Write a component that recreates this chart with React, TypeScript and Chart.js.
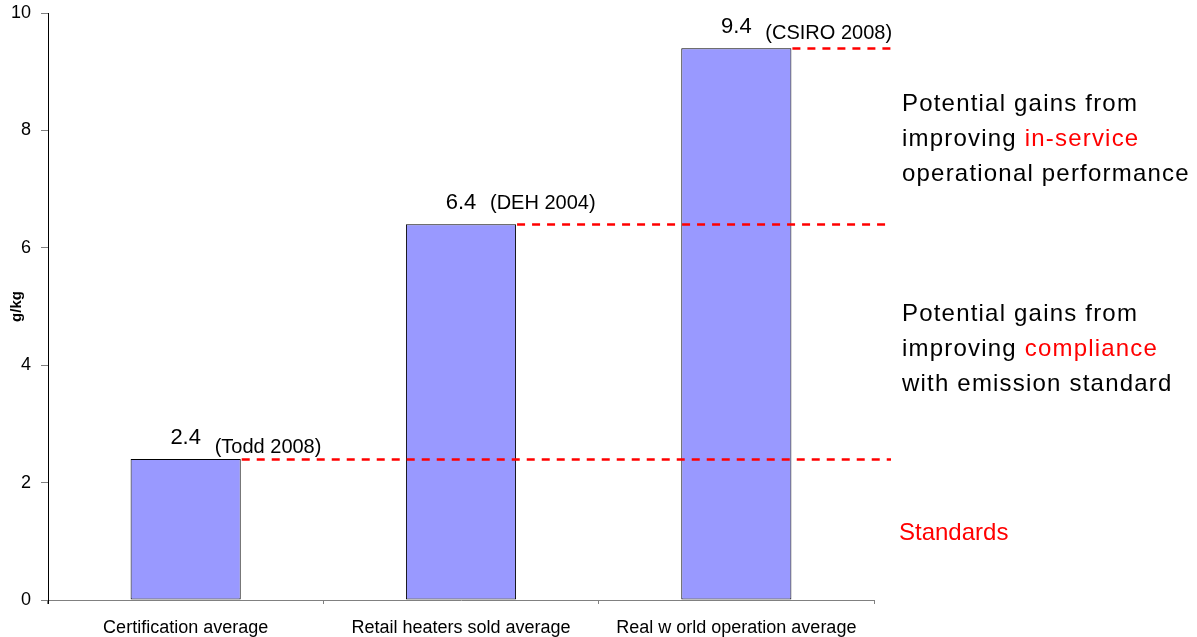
import React, { useEffect, useRef } from "react";
import { Chart, registerables } from "chart.js";

Chart.register(...registerables);

// Emission factors (g/kg) for each measurement basis
const categories = [
  "Certification average",
  "Retail heaters sold average",
  "Real w orld operation average",
];
const emissions = [2.4, 6.4, 9.4];
const valueLabels = ["2.4", "6.4", "9.4"];
const sources = ["(Todd 2008)", "(DEH 2004)", "(CSIRO 2008)"];
const yTicks = [0, 2, 4, 6, 8, 10];

// Right-hand annotation blocks: each line is a list of [text, isHighlighted]
const inServiceNote: [string, boolean][][] = [
  [["Potential gains from", false]],
  [["improving ", false], ["in-service", true]],
  [["operational performance", false]],
];
const complianceNote: [string, boolean][][] = [
  [["Potential gains from", false]],
  [["improving ", false], ["compliance", true]],
  [["with emission standard", false]],
];
const standardsNote = "Standards";

const FONT = '"Liberation Sans", Arial, Helvetica, sans-serif';
const RED = "#FF0000";

// vertical lift of each source tag above its bar top (px)
const sourceLift = [6, 15, 9];

const annotationPlugin = {
  id: "emissionAnnotations",
  afterDatasetsDraw(chart: any) {
    const { ctx, scales } = chart;
    const y = scales.y;
    const meta = chart.getDatasetMeta(0);
    const lineEnd = 891;

    ctx.save();
    // dashed reference lines from each bar to the right margin
    ctx.strokeStyle = RED;
    ctx.lineWidth = 2.5;
    ctx.setLineDash([8, 7]);
    meta.data.forEach((bar: any, i: number) => {
      const py = Math.round(y.getPixelForValue(emissions[i])) + 0.5;
      const x0 = bar.x + bar.width / 2 + 1;
      ctx.beginPath();
      ctx.moveTo(x0, py);
      ctx.lineTo(lineEnd, py);
      ctx.stroke();
    });
    ctx.setLineDash([]);

    // y axis line runs a few pixels past the baseline
    const x0 = scales.x.left;
    ctx.strokeStyle = "#000";
    ctx.lineWidth = 1;
    ctx.beginPath();
    ctx.moveTo(Math.round(x0) + 0.5, y.bottom);
    ctx.lineTo(Math.round(x0) + 0.5, y.bottom + 4);
    ctx.stroke();

    // value and source labels above the bars
    ctx.fillStyle = "#000";
    ctx.textBaseline = "alphabetic";
    meta.data.forEach((bar: any, i: number) => {
      const top = y.getPixelForValue(emissions[i]);
      ctx.font = `22px ${FONT}`;
      ctx.textAlign = "center";
      ctx.fillText(valueLabels[i], bar.x, top - 15);
      ctx.font = `20px ${FONT}`;
      ctx.textAlign = "left";
      ctx.fillText(sources[i], bar.x + 29, top - sourceLift[i]);
    });

    // explanatory notes on the right
    const drawNote = (lines: [string, boolean][][], x: number, y0: number) => {
      ctx.font = `24px ${FONT}`;
      ctx.letterSpacing = "1.2px";
      ctx.textAlign = "left";
      lines.forEach((segs, li) => {
        let cx = x;
        segs.forEach(([t, hi]) => {
          ctx.fillStyle = hi ? RED : "#000";
          ctx.fillText(t, cx, y0 + li * 35);
          cx += ctx.measureText(t).width;
        });
      });
      ctx.letterSpacing = "0px";
    };
    drawNote(inServiceNote, 902, 111);
    drawNote(complianceNote, 902, 321);
    ctx.font = `24px ${FONT}`;
    ctx.fillStyle = RED;
    ctx.fillText(standardsNote, 899, 540);
    ctx.restore();
  },
};

export default function App() {
  const canvasRef = useRef<HTMLCanvasElement | null>(null);

  useEffect(() => {
    if (!canvasRef.current) return;
    const chart = new Chart(canvasRef.current, {
      type: "bar",
      data: {
        labels: categories,
        datasets: [
          {
            data: emissions,
            backgroundColor: "#9999FF",
            borderColor: "#000000",
            borderWidth: 1,
            borderSkipped: false,
            barPercentage: 0.4,
            categoryPercentage: 1,
          },
        ],
      },
      options: {
        responsive: false,
        animation: false,
        devicePixelRatio: 1,
        layout: { padding: { top: 13, right: 323, left: 0, bottom: 0 } },
        plugins: {
          legend: { display: false },
          tooltip: { enabled: false },
        },
        scales: {
          x: {
            grid: {
              display: true,
              drawOnChartArea: false,
              offset: true,
              tickLength: 4,
              color: "#808080",
            },
            border: { color: "#808080", width: 1 },
            ticks: {
              color: "#000",
              font: { family: FONT, size: 18 },
              padding: 13,
              maxRotation: 0,
              autoSkip: false,
            },
            afterFit: (scale: any) => {
              scale.height = 37;
              scale.paddingLeft = 0;
              scale.paddingRight = 0;
            },
          },
          y: {
            min: 0,
            max: 10,
            afterBuildTicks: (scale: any) => {
              scale.ticks = yTicks.map((v) => ({ value: v }));
            },
            grid: {
              display: true,
              drawOnChartArea: false,
              tickLength: 7,
              color: "#808080",
            },
            border: { color: "#000", width: 1 },
            ticks: {
              color: "#000",
              font: { family: FONT, size: 18 },
              padding: 10,
            },
            title: {
              display: true,
              text: "g/kg",
              color: "#000",
              font: { family: FONT, size: 15, weight: "bold" },
              padding: { top: 8, bottom: 0 },
            },
            afterFit: (scale: any) => {
              scale.width = 48;
              scale.paddingTop = 0;
              scale.paddingBottom = 0;
            },
          },
        },
      },
      plugins: [annotationPlugin],
    });
    return () => chart.destroy();
  }, []);

  return (
    <div
      style={{
        position: "absolute",
        left: 0,
        top: 0,
        width: 1197,
        height: 637,
        background: "#fff",
      }}
    >
      <canvas ref={canvasRef} width={1197} height={637} />
    </div>
  );
}
